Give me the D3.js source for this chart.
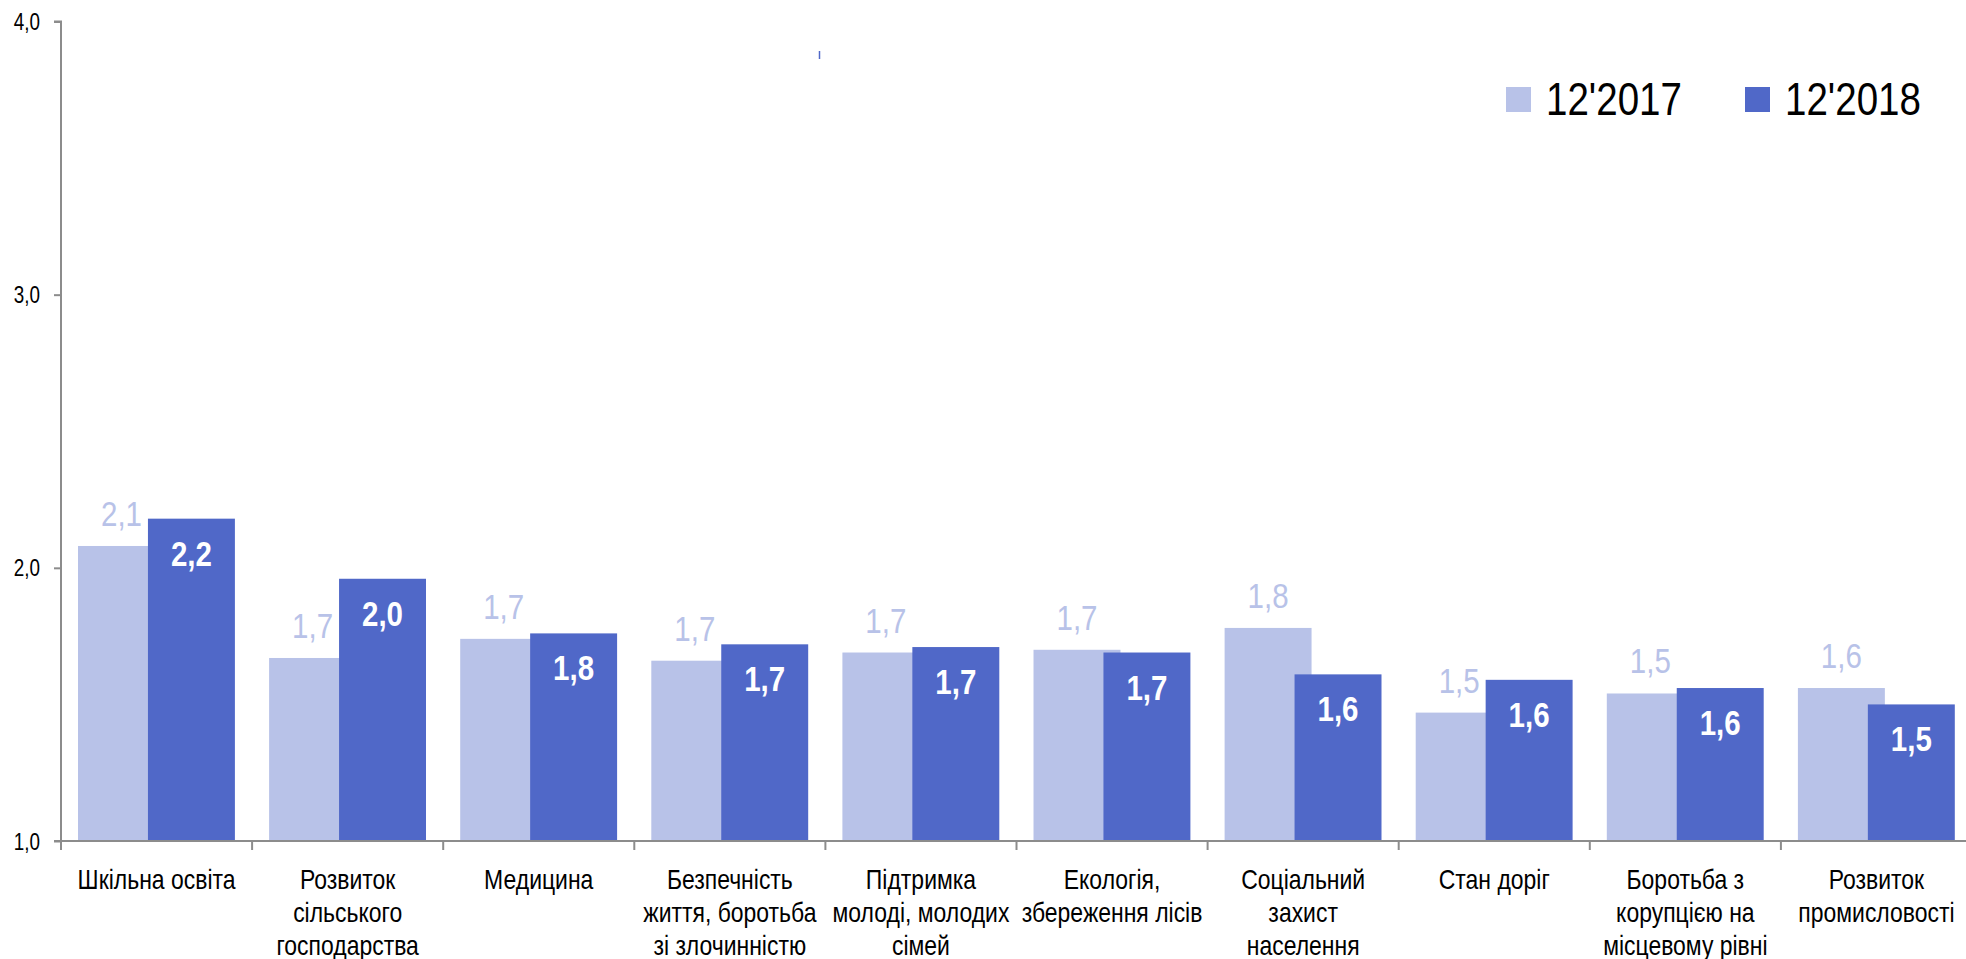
<!DOCTYPE html>
<html>
<head>
<meta charset="utf-8">
<script src="https://cdn.jsdelivr.net/npm/d3@7"></script>
<style>
  html, body { margin: 0; padding: 0; background: #fff; }
  svg { display: block; }
  text { font-family: "Liberation Sans Narrow", "Liberation Sans", Arial, sans-serif; }
</style>
</head>
<body>
<svg id="chart" width="1966" height="959"></svg>
<script>
const categories = [
  ["Шкільна освіта"],
  ["Розвиток", "сільського", "господарства"],
  ["Медицина"],
  ["Безпечність", "життя, боротьба", "зі злочинністю"],
  ["Підтримка", "молоді, молодих", "сімей"],
  ["Екологія,", "збереження лісів"],
  ["Соціальний", "захист", "населення"],
  ["Стан доріг"],
  ["Боротьба з", "корупцією на", "місцевому рівні"],
  ["Розвиток", "промисловості"]
];
const series2017 = [2.08, 1.67, 1.74, 1.66, 1.69, 1.70, 1.78, 1.47, 1.54, 1.56];
const series2018 = [2.18, 1.96, 1.76, 1.72, 1.71, 1.69, 1.61, 1.59, 1.56, 1.50];
const labels2017 = ["2,1", "1,7", "1,7", "1,7", "1,7", "1,7", "1,8", "1,5", "1,5", "1,6"];
const labels2018 = ["2,2", "2,0", "1,8", "1,7", "1,7", "1,7", "1,6", "1,6", "1,6", "1,5"];
const yTicks = [1, 2, 3, 4];
const yTickLabels = ["1,0", "2,0", "3,0", "4,0"];
const seriesNames = ["12'2017", "12'2018"];
const colors = ["#b8c2e8", "#5068c8"];

const SX = 0.82; // horizontal condensing to mimic a narrow face
const svg = d3.select("#chart");
const left = 61, bandW = 191.1;
const x = d3.scaleBand()
  .domain(d3.range(categories.length))
  .range([left, left + bandW * categories.length])
  .paddingInner(0).paddingOuter(0);
const y = d3.scaleLinear().domain([1, 4]).range([841, 21.5]);
const bw = x.bandwidth();
const offLight = bw * 0.089, offDark = bw * 0.455, barW = bw * 0.455;

// bars 2017 (behind)
svg.append("g").selectAll("rect").data(series2017).join("rect")
  .attr("x", (d, i) => x(i) + offLight)
  .attr("y", d => y(d))
  .attr("width", barW)
  .attr("height", d => y(1) - y(d))
  .attr("fill", colors[0]);
// bars 2018 (front)
svg.append("g").selectAll("rect").data(series2018).join("rect")
  .attr("x", (d, i) => x(i) + offDark)
  .attr("y", d => y(d))
  .attr("width", barW)
  .attr("height", d => y(1) - y(d))
  .attr("fill", colors[1]);

// value labels
svg.append("g").selectAll("text").data(series2017).join("text")
  .attr("transform", (d, i) => `translate(${x(i) + offLight + barW / 2},${y(d) - 20}) scale(${SX},1)`)
  .attr("text-anchor", "middle")
  .attr("font-size", 36)
  .attr("fill", colors[0])
  .text((d, i) => labels2017[i]);
svg.append("g").selectAll("text").data(series2018).join("text")
  .attr("transform", (d, i) => `translate(${x(i) + offDark + barW / 2},${y(d) + 47}) scale(${SX},1)`)
  .attr("text-anchor", "middle")
  .attr("font-size", 36)
  .attr("font-weight", "bold")
  .attr("fill", "#ffffff")
  .text((d, i) => labels2018[i]);

// y axis
const yAxis = d3.axisLeft(y).tickValues(yTicks).tickSize(7).tickPadding(14)
  .tickFormat((d, i) => yTickLabels[i]);
const gy = svg.append("g").attr("transform", `translate(${left},0)`).call(yAxis);
gy.select(".domain").attr("stroke", "#8c8c8c").attr("stroke-width", 2)
  .attr("d", `M-7,${y(4)}H0V${y(1)}H-7`);
gy.selectAll(".tick line").attr("stroke", "#8c8c8c").attr("stroke-width", 2);
gy.selectAll(".tick text")
  .attr("x", 0).attr("dy", "0.35em")
  .attr("transform", `translate(-21,0) scale(${SX},1)`)
  .attr("font-size", 23).attr("fill", "#000")
  .attr("font-family", "\"Liberation Sans Narrow\", \"Liberation Sans\", Arial, sans-serif");

// x axis
const gx = svg.append("g");
gx.append("line")
  .attr("x1", left).attr("x2", x.range()[1])
  .attr("y1", y(1)).attr("y2", y(1))
  .attr("stroke", "#8c8c8c").attr("stroke-width", 2);
gx.selectAll("line.tk").data(d3.range(categories.length + 1)).join("line")
  .attr("class", "tk")
  .attr("x1", i => left + i * bw).attr("x2", i => left + i * bw)
  .attr("y1", y(1)).attr("y2", y(1) + 9)
  .attr("stroke", "#8c8c8c").attr("stroke-width", 2);

// category labels
const cl = svg.append("g").selectAll("text").data(categories).join("text")
  .attr("transform", (d, i) => `translate(${x(i) + bw / 2},889) scale(${SX},1)`)
  .attr("text-anchor", "middle")
  .attr("font-size", 28)
  .attr("fill", "#000");
cl.each(function(lines) {
  const t = d3.select(this);
  lines.forEach((ln, j) => {
    t.append("tspan").attr("x", 0).attr("y", j * 33).text(ln);
  });
});

// legend
const legX = [1506, 1745];
const lg = svg.append("g");
seriesNames.forEach((name, i) => {
  lg.append("rect").attr("x", legX[i]).attr("y", 87).attr("width", 25).attr("height", 25)
    .attr("fill", colors[i]);
  lg.append("text").attr("transform", `translate(${legX[i] + 40},115) scale(${SX},1)`)
    .attr("font-size", 47).attr("fill", "#000").text(name);
});

// small stray mark
svg.append("line").attr("x1", 819.5).attr("x2", 819.5).attr("y1", 51).attr("y2", 59)
  .attr("stroke", colors[1]).attr("stroke-width", 1.5);
</script>
</body>
</html>
